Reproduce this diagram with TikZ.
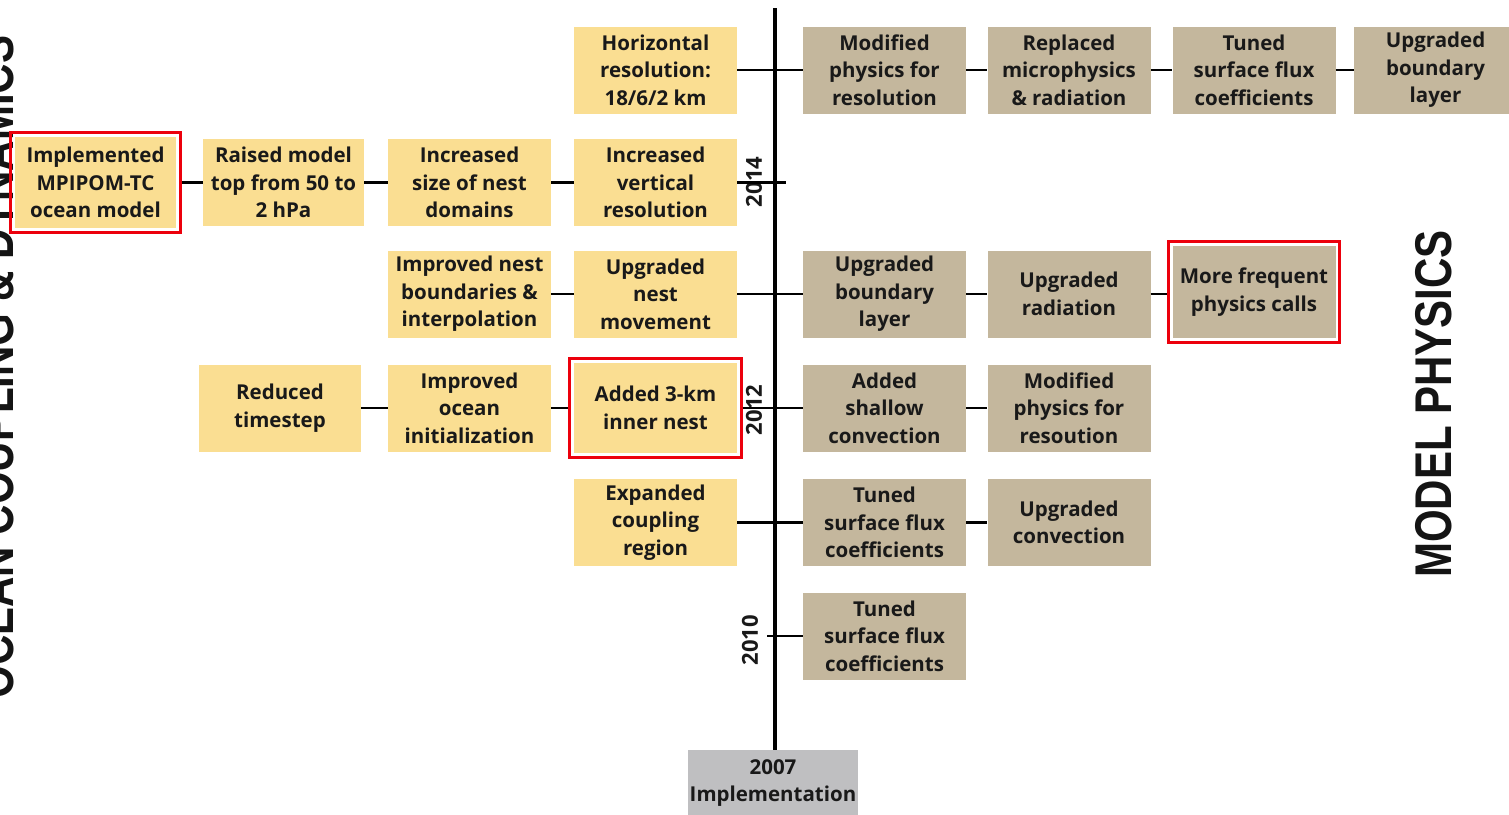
\documentclass[tikz,border=0pt]{standalone}
\usepackage{fontspec}
\setmainfont{Open Sans}
\newfontfamily\headfont{Liberation Sans}
\usetikzlibrary{fit}
\definecolor{sand}{RGB}{250,222,146}
\definecolor{khaki}{RGB}{196,183,157}
\definecolor{slate}{RGB}{191,191,193}
\definecolor{alert}{RGB}{236,0,12}
\begin{document}
\begin{tikzpicture}[x=1pt,y=-1pt,
  card/.style={minimum width=163pt, minimum height=87pt, inner sep=0pt,
    align=center, text=black!90,
    font=\fontsize{20.5}{27.5}\selectfont\bfseries},
  ocean/.style={card, fill=sand},
  phys/.style={card, fill=khaki},
  link/.style={line width=2.8pt},
  redframe/.style={draw=alert, line width=3pt, inner sep=4pt},
  year/.style={rotate=90, inner sep=0pt, text=black!90,
    font=\fontsize{22}{22}\selectfont\bfseries},
  banner/.style={rotate=90, inner sep=0pt, text=black!92},
  ]
\clip (0,0) rectangle (1509,814);
\fill[white] (0,0) rectangle (1509,814);

% ---- rotated section titles
\node[banner] (ocl) at (-4,367)
  {\scalebox{1}[1.23]{\headfont\fontsize{42}{42}\selectfont\bfseries OCEAN COUPLING \& DYNAMICS}};
\node[banner] (mpl) at (1433.5,404)
  {\scalebox{1}[1.23]{\headfont\fontsize{42}{42}\selectfont\bfseries MODEL PHYSICS}};

% ---- start of the timeline
\node[card, fill=slate, minimum width=170pt, minimum height=66pt] (start) at (773,783)
  {2007\\Implementation};
\coordinate (ttop) at (775,8);
\draw[line width=3.2pt] (ttop) -- (ttop |- start.north);

% ---- row 1
\node[ocean] (hres) at (655.5,70) {Horizontal\\resolution:\\18/6/2 km};
\node[phys] (mod1) at (884.5,70) {Modified\\physics for\\resolution};
\node[phys] (repl) at (1069,70) {Replaced\\microphysics\\\& radiation};
\node[phys] (tun1) at (1254,70) {Tuned\\surface flux\\coefficients};
\node[phys] (upbl1) at (1435.5,70) {Upgraded\\boundary\\layer};

% ---- row 2
\node[ocean, minimum width=161pt, minimum height=91pt] (impl) at (95.5,182.5)
  {Implemented\\MPIPOM-TC\\ocean model};
\node[redframe, fit=(impl)] (implf) {};
\node[ocean, minimum width=161pt] (raised) at (283.5,182.5) {Raised model\\top from 50 to\\2 hPa};
\node[ocean] (incsize) at (469.5,182.5) {Increased\\size of nest\\domains};
\node[ocean] (incvert) at (655.5,182.5) {Increased\\vertical\\resolution};
\coordinate (t14) at (786,182.5);

% ---- row 3
\node[ocean] (impnest) at (469.5,294) {Improved nest\\boundaries \&\\interpolation};
\node[ocean] (upnest) at (655.5,294) {Upgraded\\nest\\movement};
\node[phys] (upbl2) at (884.5,294) {Upgraded\\boundary\\layer};
\node[phys] (uprad) at (1069,294) {Upgraded\\radiation};
\node[phys, minimum height=92pt] (morefreq) at (1254,292) {More frequent\\physics calls};
\node[redframe, fit=(morefreq)] (morefreqf) {};

% ---- row 4
\node[ocean, minimum width=162pt] (reduced) at (280,408) {Reduced\\timestep};
\node[ocean] (impocean) at (469.5,408) {Improved\\ocean\\initialization};
\node[ocean, minimum height=90pt] (added) at (655.5,408) {Added 3-km\\inner nest};
\node[redframe, fit=(added)] (addedf) {};
\node[phys] (shallow) at (884.5,408) {Added\\shallow\\convection};
\node[phys] (modres) at (1069,408) {Modified\\physics for\\resoution};

% ---- row 5
\node[ocean] (expand) at (655.5,522.5) {Expanded\\coupling\\region};
\node[phys] (tun2) at (884.5,522.5) {Tuned\\surface flux\\coefficients};
\node[phys] (upconv) at (1069,522.5) {Upgraded\\convection};

% ---- row 6
\node[phys] (tun3) at (884.5,636) {Tuned\\surface flux\\coefficients};
\coordinate (t10) at (767,636);

% ---- year labels
\node[year] (y14) at (754,182) {2014};
\node[year] (y12) at (754,410) {2012};
\node[year] (y10) at (750,640) {2010};

% ---- connectors
\draw[link] (hres.east) -- (mod1.west);
\draw[link] (mod1.east) -- (repl.west);
\draw[link] (repl.east) -- (tun1.west);
\draw[link] (tun1.east) -- (upbl1.west);

\draw[link] (implf.east) -- (raised.west);
\draw[link] (raised.east) -- (incsize.west);
\draw[link] (incsize.east) -- (incvert.west);
\draw[link] (incvert.east) -- (t14);

\draw[link] (impnest.east) -- (upnest.west);
\draw[link] (upnest.east) -- (upbl2.west);
\draw[link] (upbl2.east) -- (uprad.west);
\draw[link] (uprad.east) -- (uprad.east -| morefreqf.west);

\draw[link] (reduced.east) -- (impocean.west);
\draw[link] (impocean.east) -- (addedf.west);
\draw[link] (addedf.east) -- (shallow.west);
\draw[link] (shallow.east) -- (modres.west);

\draw[link] (expand.east) -- (tun2.west);
\draw[link] (tun2.east) -- (upconv.west);

\draw[link] (t10) -- (tun3.west);
\end{tikzpicture}
\end{document}
